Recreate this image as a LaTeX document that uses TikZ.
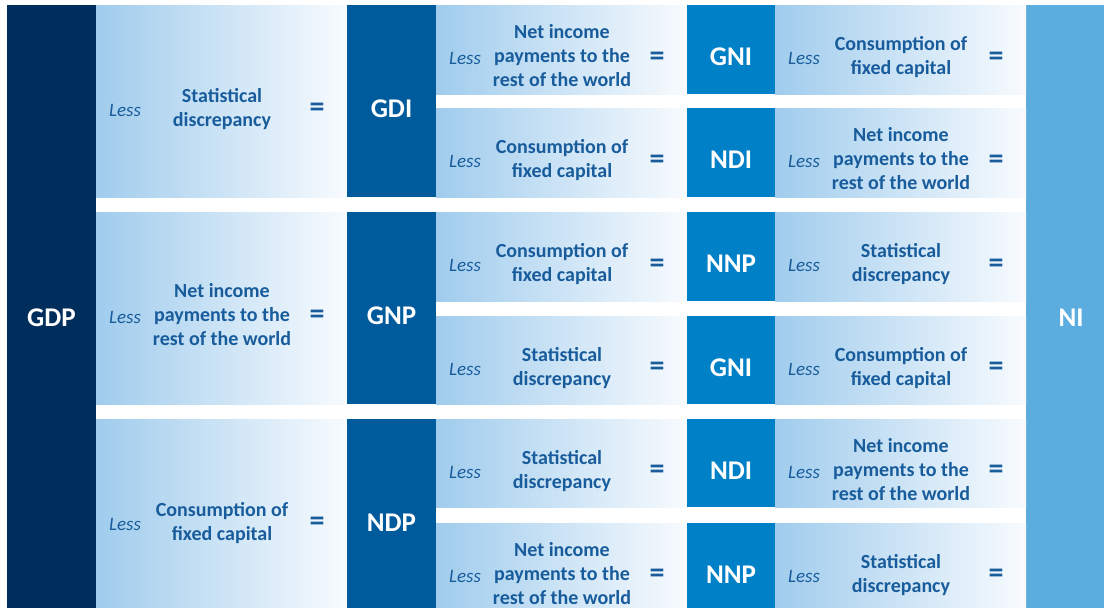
\documentclass[tikz,border=0pt]{standalone}
\usepackage{fontspec}
\setmainfont{Carlito}
\usetikzlibrary{calc}
\definecolor{cGDP}{RGB}{0,46,92}
\definecolor{cGDI}{RGB}{0,91,157}
\definecolor{cGNI}{RGB}{0,128,198}
\definecolor{cNI}{RGB}{91,172,223}
\definecolor{cGradL}{RGB}{160,204,237}
\definecolor{cGradR}{RGB}{248,251,254}
\definecolor{cTxt}{RGB}{24,92,156}
\tikzset{
  box/.style={inner sep=0pt, outer sep=0pt, anchor=north west},
  gradbox/.style={box, left color=cGradL, right color=cGradR, minimum width=251pt},
  lessstyle/.style={inner sep=0pt, anchor=base, text=cTxt, font=\fontsize{19}{23}\selectfont\itshape},
  itemstyle/.style={inner sep=0pt, align=center, text=cTxt, font=\fontsize{20}{24}\selectfont\bfseries},
  eqstyle/.style={inner sep=0pt, text=cTxt, font=\fontsize{30}{32}\selectfont\bfseries},
  labelstyle/.style={inner sep=0pt, text=white, font=\fontsize{27}{30}\selectfont\bfseries},
}
\newcommand\lessrow[5]{%
  \node[gradbox, minimum height=#4-#3] (#1) at (#2,#3) {};
  \node[lessstyle] (#1-less) at ($(#1.west)+(29,15)$) {Less};
  \node[itemstyle] (#1-text) at ($(#1.west)+(126,8.5)$) {\strut #5\strut};
  \node[eqstyle] (#1-eq) at ($(#1.west)+(221,9)$) {=};
}
\newcommand\netinc{Net income\\payments to the\\rest of the world}
\newcommand\cfc{Consumption of\\fixed capital}
\newcommand\statd{Statistical\\discrepancy}
\begin{document}
\begin{tikzpicture}[x=1pt,y=-1pt]
\useasboundingbox[fill=white] (0,0) rectangle (1104,608);
% outer columns
\node[box, fill=cGDP, minimum width=89pt, minimum height=606pt] (gdp) at (7,5) {};
\node[labelstyle] (gdp-l) at ($(gdp.center)+(0,10)$) {GDP};
\node[box, fill=cNI, minimum width=90pt, minimum height=606pt] (ni) at (1026,5) {};
\node[labelstyle] (ni-l) at ($(ni.center)+(0,10)$) {NI};
% left column
\lessrow{l1}{96}{5}{197}{\statd}
\lessrow{l2}{96}{212}{404}{\netinc}
\lessrow{l3}{96}{419}{611}{\cfc}
% second column boxes
\node[box, fill=cGDI, minimum width=89pt, minimum height=192pt] (gdi) at (347,5) {};
\node[labelstyle] (gdi-l) at ($(gdi.center)+(0,7.5)$) {GDI};
\node[box, fill=cGDI, minimum width=89pt, minimum height=192pt] (gnp) at (347,212) {};
\node[labelstyle] (gnp-l) at ($(gnp.center)+(0,7.5)$) {GNP};
\node[box, fill=cGDI, minimum width=89pt, minimum height=192pt] (ndp) at (347,419) {};
\node[labelstyle] (ndp-l) at ($(ndp.center)+(0,7.5)$) {NDP};
% middle column
\lessrow{m1}{436}{5}{94}{\netinc}
\lessrow{m2}{436}{108}{197}{\cfc}
\lessrow{m3}{436}{212}{301}{\cfc}
\lessrow{m4}{436}{316}{404}{\statd}
\lessrow{m5}{436}{419}{507}{\statd}
\lessrow{m6}{436}{523}{611}{\netinc}
% third column boxes
\node[box, fill=cGNI, minimum width=88pt, minimum height=89pt] (gni1) at (687,5) {};
\node[labelstyle] (gni1-l) at ($(gni1.center)+(0,7.5)$) {GNI};
\node[box, fill=cGNI, minimum width=88pt, minimum height=89pt] (ndi1) at (687,108) {};
\node[labelstyle] (ndi1-l) at ($(ndi1.center)+(0,7.5)$) {NDI};
\node[box, fill=cGNI, minimum width=88pt, minimum height=89pt] (nnp1) at (687,212) {};
\node[labelstyle] (nnp1-l) at ($(nnp1.center)+(0,7.5)$) {NNP};
\node[box, fill=cGNI, minimum width=88pt, minimum height=88pt] (gni2) at (687,316) {};
\node[labelstyle] (gni2-l) at ($(gni2.center)+(0,7.5)$) {GNI};
\node[box, fill=cGNI, minimum width=88pt, minimum height=88pt] (ndi2) at (687,419) {};
\node[labelstyle] (ndi2-l) at ($(ndi2.center)+(0,7.5)$) {NDI};
\node[box, fill=cGNI, minimum width=88pt, minimum height=88pt] (nnp2) at (687,523) {};
\node[labelstyle] (nnp2-l) at ($(nnp2.center)+(0,7.5)$) {NNP};
% right column
\lessrow{r1}{775}{5}{94}{\cfc}
\lessrow{r2}{775}{108}{197}{\netinc}
\lessrow{r3}{775}{212}{301}{\statd}
\lessrow{r4}{775}{316}{404}{\cfc}
\lessrow{r5}{775}{419}{507}{\netinc}
\lessrow{r6}{775}{523}{611}{\statd}
\end{tikzpicture}
\end{document}
